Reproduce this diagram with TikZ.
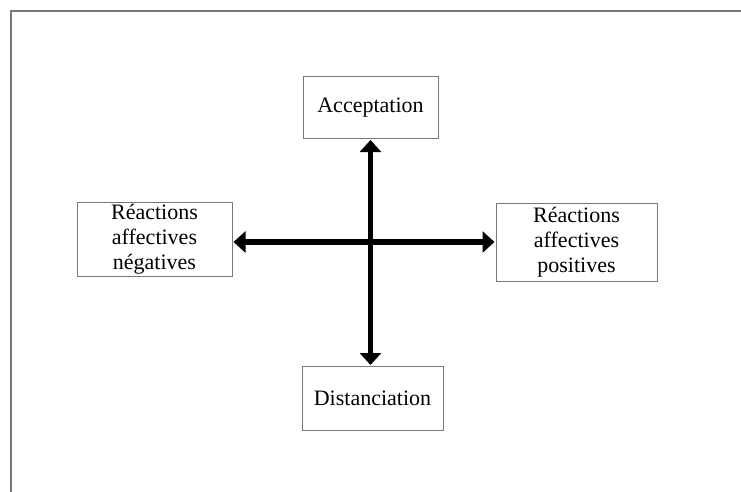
\documentclass[tikz,border=0pt]{standalone}
\usepackage{fontspec}
\setmainfont{Liberation Serif}
\usepackage{tikz}
\usetikzlibrary{positioning,arrows.meta}
\usepackage{xcolor}
\definecolor{cadre}{RGB}{120,120,120}

\begin{document}
\begin{tikzpicture}[x=1pt, y=-1pt, >={Triangle[length=12pt,width=21pt]}, line width=1pt,
    boite/.style={draw=cadre, rectangle, inner sep=0pt, align=center, font=\fontsize{22}{25}\selectfont}]
    \useasboundingbox (0,0) rectangle (741,492);
    % Cadre
    \draw[cadre, line width=1.5pt] (11,492) -- (11,11) -- (741,11);

    % Definición de bloques
    \node [boite, minimum width=135pt, minimum height=62pt] (accept) at (370.5,107.5) {Acceptation};
    \node [boite, minimum width=141pt, minimum height=64pt] (distance) at (372.5,398) {Distanciation};
    \node [boite, minimum width=155pt, minimum height=74pt] (negatif) at (154.5,239) {Réactions\\affectives\\négatives};
    \node [boite, minimum width=161pt, minimum height=78pt] (positif) at (576.5,242) {Réactions\\affectives\\positives};

    % Flechas
    \draw[<->, line width=5.5pt, shorten <=1pt, shorten >=0.5pt] (accept.south) -- (accept.south |- distance.north);
    \draw[<->, line width=5.5pt, shorten <=1pt, shorten >=1pt] (positif.west -| negatif.east) -- (positif.west);
\end{tikzpicture}
\end{document}
